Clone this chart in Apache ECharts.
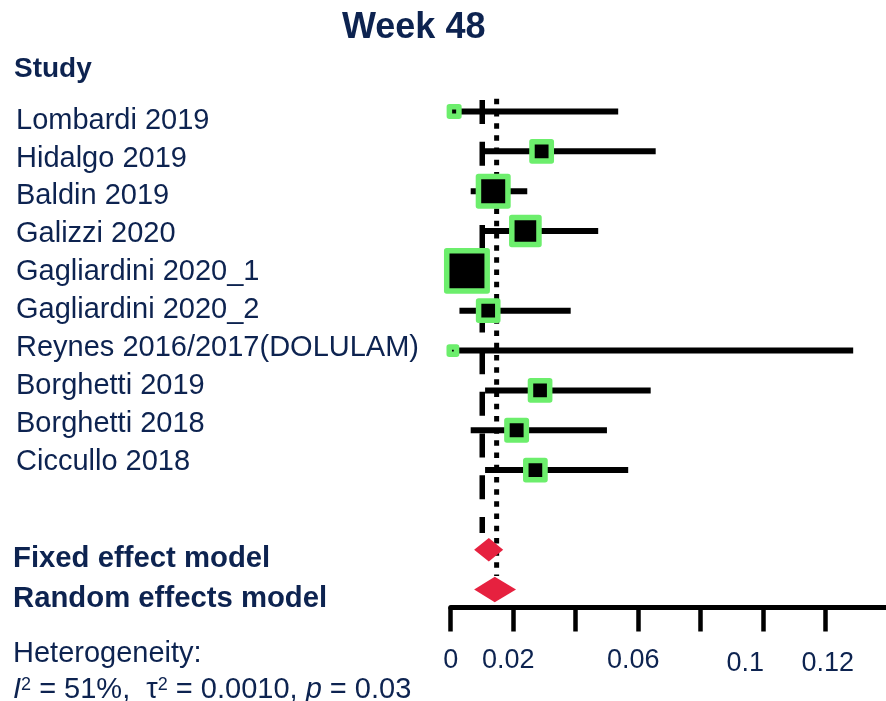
<!DOCTYPE html>
<html><head><meta charset="utf-8">
<script src="https://cdn.jsdelivr.net/npm/echarts@6/dist/echarts.min.js"></script>
<style>html,body{margin:0;padding:0;background:#fff}#c{width:886px;height:701px}</style>
</head><body><div id="c"></div>
<script>
// ---------------- data ----------------
const chartTitle = 'Week 48';
const studyHeader = 'Study';
const studies = ['Lombardi 2019','Hidalgo 2019','Baldin 2019','Galizzi 2020','Gagliardini 2020_1',
  'Gagliardini 2020_2','Reynes 2016/2017(DOLULAM)','Borghetti 2019','Borghetti 2018','Ciccullo 2018'];
const studyEst = [0.0011, 0.0291, 0.0136, 0.0239, 0.0052, 0.0120, 0.0007, 0.0286, 0.0211, 0.0271];
const studyLo  = [0.0000, 0.0094, 0.0064, 0.0104, 0.0010, 0.0028, 0.0000, 0.0110, 0.0064, 0.0110];
const studyHi  = [0.0536, 0.0656, 0.0245, 0.0472, 0.0100, 0.0384, 0.1288, 0.0640, 0.0500, 0.0568];
const studyWeight = [0.5, 5.9, 17.8, 14.5, 37.8, 5.8, 0.1, 5.8, 6.0, 5.8];
const modelNames = ['Fixed effect model','Random effects model'];
const modelEst = [0.0122, 0.0141];
const modelLo  = [0.0075, 0.0075];
const modelHi  = [0.0168, 0.0209];
const refLineValues = [0.0101, 0.0147];   // fixed (dashed), random (dotted)
const xTickValues = [0, 0.02, 0.04, 0.06, 0.08, 0.10, 0.12];
const xTickLabels = ['0', '0.02', '', '0.06', '', '0.1', '0.12'];
const hetTitle = 'Heterogeneity:';
const hetI2 = '51%', hetTau2 = '0.0010', hetP = '0.03';

// ---------------- layout / style ----------------
const NAVY = '#0d2350';
const FONT = '"Liberation Sans", Arial, sans-serif';
const GREEN = '#6cee6c';
const RED = '#e6213f';
const studyRows = studies.map((s, i) => i);
const modelRows = [11, 12];
const diamondHalf = [11.7, 12.7];
const refLineSpan = [[-0.29, 10.58], [-0.32, 11.66]];
const refLineDash = [[24, 17.7], [5.5, 6.7]];
const refLineWidth = [5.5, 5];
const xLabelNudge = [[0, 0], [-5, 0], [0, 0], [-5, 0], [0, 0], [-18, 3], [2, 3]];

const modelLabel = {};
modelNames.forEach((s, i) => modelLabel[modelRows[i]] = s);

const xRich = {};
xTickValues.forEach((v, i) => {
  const [dx, dy] = xLabelNudge[i];
  xRich['t' + i] = {
    fontSize: 27, fontFamily: FONT, color: NAVY,
    padding: [dy, dx < 0 ? -2 * dx : 0, 0, dx > 0 ? 2 * dx : 0]
  };
});

const chart = echarts.init(document.getElementById('c'), null, {renderer: 'canvas'});
chart.setOption({
  animation: false,
  backgroundColor: '#fff',
  title: {
    text: chartTitle, left: 342, top: 10, padding: 0,
    textStyle: {fontSize: 36, fontWeight: 'bold', color: NAVY, fontFamily: FONT}
  },
  grid: {left: 450.7, right: 0, top: 31.84, bottom: 93.5, containLabel: false, outerBoundsMode: 'none'},
  xAxis: {
    type: 'value', min: 0, max: 0.1393, interval: 0.02, position: 'bottom',
    axisLine: {show: true, onZero: false, lineStyle: {color: '#000', width: 5}},
    axisTick: {show: true, customValues: xTickValues, length: 24, lineStyle: {color: '#000', width: 4.5}},
    axisLabel: {
      customValues: xTickValues.filter((v, i) => xTickLabels[i] !== ''),
      margin: 40, showMinLabel: true, showMaxLabel: true,
      formatter: (v) => {
        const i = xTickValues.findIndex(t => Math.abs(t - v) < 1e-9);
        if (i < 0 || !xTickLabels[i]) return '';
        return '{t' + i + '|' + xTickLabels[i] + '}';
      },
      rich: xRich
    },
    splitLine: {show: false}
  },
  yAxis: [
    {
      // plotting rows (studies 0-9, models 11-12)
      type: 'value', position: 'left', offset: 0, inverse: true, min: -2, max: 12.45, interval: 1,
      axisLine: {show: false, onZero: false}, axisTick: {show: false}, splitLine: {show: false},
      axisLabel: {
        customValues: modelRows,
        showMinLabel: true, showMaxLabel: true,
        align: 'left', margin: 437.7,
        formatter: (v) => modelLabel[Math.round(v)] ? '{b|' + modelLabel[Math.round(v)] + '}' : '',
        rich: {
          b: {fontSize: 29.3, fontFamily: FONT, color: NAVY, fontWeight: 'bold', padding: [19, 0, 0, 0]}
        }
      }
    },
    {
      // study-name column (text rows are set slightly tighter than the plot rows)
      type: 'value', position: 'left', offset: 0, inverse: true, min: -2.345, max: 12.848, interval: 1,
      axisLine: {show: false, onZero: false}, axisTick: {show: false}, splitLine: {show: false},
      axisLabel: {
        customValues: studyRows,
        showMinLabel: true, showMaxLabel: true,
        align: 'left', margin: 434.7,
        fontSize: 29, fontFamily: FONT, color: NAVY,
        formatter: (v) => studies[Math.round(v)] || ''
      }
    }
  ],
  series: [
    {
      name: 'refLines', type: 'custom', z: 2, silent: true,
      data: refLineValues.map((v, i) => [v, refLineSpan[i][0], refLineSpan[i][1]]),
      renderItem: (params, api) => {
        const i = params.dataIndex;
        const a = api.coord([api.value(0), api.value(1)]);
        const b = api.coord([api.value(0), api.value(2)]);
        return {type: 'line', shape: {x1: a[0], y1: a[1], x2: b[0], y2: b[1]},
          style: {stroke: '#000', lineWidth: refLineWidth[i], lineDash: refLineDash[i]}};
      }
    },
    {
      name: 'whiskers', type: 'custom', z: 3, silent: true,
      data: studies.map((s, i) => [studyLo[i], studyHi[i], studyRows[i]]),
      renderItem: (params, api) => {
        const a = api.coord([api.value(0), api.value(2)]);
        const b = api.coord([api.value(1), api.value(2)]);
        return {type: 'line', shape: {x1: a[0], y1: a[1], x2: b[0], y2: b[1]},
          style: {stroke: '#000', lineWidth: 6}};
      }
    },
    {
      name: 'studies', type: 'scatter', z: 4, silent: true,
      data: studies.map((s, i) => [studyEst[i], studyRows[i], studyWeight[i]]),
      symbol: 'rect',
      symbolSize: (val) => 5.69 * Math.sqrt(val[2]) + 5.5,
      itemStyle: {color: '#000', borderColor: GREEN, borderWidth: 5.5, borderJoin: 'round', opacity: 1}
    },
    {
      name: 'models', type: 'custom', z: 5, silent: true,
      data: modelNames.map((s, i) => [modelLo[i], modelEst[i], modelHi[i], modelRows[i]]),
      renderItem: (params, api) => {
        const h = diamondHalf[params.dataIndex];
        const lo = api.coord([api.value(0), api.value(3)]);
        const c = api.coord([api.value(1), api.value(3)]);
        const hi = api.coord([api.value(2), api.value(3)]);
        return {type: 'polygon',
          shape: {points: [[lo[0], c[1]], [c[0], c[1] - h], [hi[0], c[1]], [c[0], c[1] + h]]},
          style: {fill: RED}};
      }
    }
  ],
  graphic: [
    {type: 'text', x: 14, y: 69, silent: true,
      style: {text: studyHeader, fontSize: 28, fontWeight: 'bold', fontFamily: FONT, fill: NAVY, verticalAlign: 'middle'}},
    {type: 'text', x: 13, y: 654, silent: true,
      style: {text: hetTitle, fontSize: 29, fontFamily: FONT, fill: NAVY, verticalAlign: 'middle'}},
    {type: 'text', x: 13, y: 689.5, silent: true,
      style: {
        text: '{i|I}{s|2}{r| = ' + hetI2 + ',  τ}{s|2}{r| = ' + hetTau2 + ', }{i|p}{r| = ' + hetP + '}',
        verticalAlign: 'middle', fill: NAVY, fontSize: 29, fontFamily: FONT,
        rich: {
          r: {fontSize: 29, fontFamily: FONT, fill: NAVY, color: NAVY},
          i: {fontSize: 29, fontFamily: FONT, fill: NAVY, color: NAVY, fontStyle: 'italic'},
          s: {fontSize: 18, fontFamily: FONT, fill: NAVY, color: NAVY, padding: [0, 0, 9, 0]}
        }
      }}
  ]
});
</script></body></html>
